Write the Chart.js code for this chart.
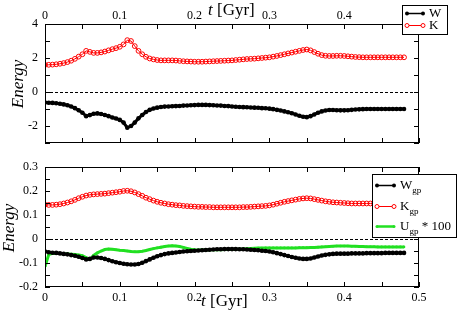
<!DOCTYPE html>
<html>
<head>
<meta charset="utf-8">
<script src="https://cdn.jsdelivr.net/npm/chart.js@4.4.0/dist/chart.umd.min.js"></script>
<style>
  html, body { margin: 0; padding: 0; background: #fff; }
  #wrap { position: relative; width: 457px; height: 312px; }
  canvas { position: absolute; left: 0; }
</style>
</head>
<body>
<div id="wrap">
  <canvas id="topChart" width="457" height="150" style="top:0"></canvas>
  <canvas id="botChart" width="457" height="162" style="top:150px"></canvas>
</div>
<script>
// time in Gyr
const time = [
  0, 0.005, 0.01, 0.015, 0.02, 0.025, 0.03, 0.035, 0.04, 0.045,
  0.05, 0.055, 0.06, 0.065, 0.07, 0.075, 0.08, 0.085, 0.09, 0.095,
  0.1, 0.105, 0.11, 0.115, 0.12, 0.125, 0.13, 0.135, 0.14, 0.145,
  0.15, 0.155, 0.16, 0.165, 0.17, 0.175, 0.18, 0.185, 0.19, 0.195,
  0.2, 0.205, 0.21, 0.215, 0.22, 0.225, 0.23, 0.235, 0.24, 0.245,
  0.25, 0.255, 0.26, 0.265, 0.27, 0.275, 0.28, 0.285, 0.29, 0.295,
  0.3, 0.305, 0.31, 0.315, 0.32, 0.325, 0.33, 0.335, 0.34, 0.345,
  0.35, 0.355, 0.36, 0.365, 0.37, 0.375, 0.38, 0.385, 0.39, 0.395,
  0.4, 0.405, 0.41, 0.415, 0.42, 0.425, 0.43, 0.435, 0.44, 0.445,
  0.45, 0.455, 0.46, 0.465, 0.47, 0.475, 0.48
];

// top panel
const W = [
  -0.62, -0.63, -0.64, -0.66, -0.69, -0.73, -0.78, -0.85, -0.95, -1.07,
  -1.22, -1.42, -1.36, -1.28, -1.26, -1.29, -1.35, -1.42, -1.50, -1.56,
  -1.64, -1.80, -2.10, -2.00, -1.80, -1.55, -1.35, -1.18, -1.05, -0.97,
  -0.92, -0.88, -0.86, -0.85, -0.84, -0.83, -0.82, -0.80, -0.79, -0.78,
  -0.77, -0.76, -0.76, -0.76, -0.77, -0.78, -0.79, -0.80, -0.82, -0.83,
  -0.85, -0.87, -0.88, -0.89, -0.90, -0.91, -0.92, -0.93, -0.95, -0.96,
  -0.98, -1.01, -1.05, -1.09, -1.14, -1.19, -1.25, -1.32, -1.40, -1.46,
  -1.48, -1.42, -1.32, -1.22, -1.14, -1.09, -1.06, -1.06, -1.07, -1.08,
  -1.08, -1.07, -1.05, -1.03, -1.02, -1.01, -1.00, -1.00, -1.00, -1.00,
  -1.00, -1.00, -1.00, -1.00, -1.00, -1.00, -1.00
];
const K = [
  1.60, 1.60, 1.61, 1.63, 1.66, 1.70, 1.76, 1.84, 1.95, 2.08,
  2.22, 2.42, 2.36, 2.30, 2.30, 2.33, 2.38, 2.45, 2.52, 2.58,
  2.66, 2.80, 3.05, 3.00, 2.70, 2.42, 2.22, 2.07, 1.97, 1.92,
  1.88, 1.86, 1.86, 1.86, 1.86, 1.85, 1.83, 1.81, 1.80, 1.79,
  1.78, 1.78, 1.78, 1.79, 1.80, 1.81, 1.82, 1.83, 1.84, 1.85,
  1.86, 1.88, 1.90, 1.92, 1.94, 1.95, 1.96, 1.98, 2.00, 2.02,
  2.04, 2.08, 2.12, 2.17, 2.22, 2.27, 2.32, 2.37, 2.42, 2.47,
  2.50, 2.45, 2.35, 2.25, 2.17, 2.13, 2.12, 2.12, 2.13, 2.13,
  2.12, 2.10, 2.08, 2.06, 2.05, 2.04, 2.04, 2.04, 2.04, 2.04,
  2.04, 2.04, 2.04, 2.04, 2.04, 2.04, 2.04
];

// bottom panel
const Wgp = [
  -0.052, -0.055, -0.057, -0.058, -0.060, -0.062, -0.064, -0.067, -0.070, -0.074,
  -0.079, -0.085, -0.083, -0.077, -0.077, -0.079, -0.083, -0.088, -0.093, -0.097,
  -0.100, -0.103, -0.105, -0.106, -0.106, -0.104, -0.099, -0.092, -0.085, -0.078,
  -0.072, -0.067, -0.063, -0.060, -0.058, -0.056, -0.054, -0.052, -0.051, -0.050,
  -0.049, -0.048, -0.047, -0.046, -0.045, -0.044, -0.043, -0.043, -0.042, -0.042,
  -0.042, -0.042, -0.043, -0.043, -0.044, -0.045, -0.046, -0.047, -0.049, -0.050,
  -0.052, -0.055, -0.059, -0.063, -0.067, -0.071, -0.075, -0.078, -0.081, -0.083,
  -0.083, -0.081, -0.077, -0.073, -0.069, -0.066, -0.064, -0.062, -0.061, -0.061,
  -0.061, -0.061, -0.060, -0.060, -0.060, -0.060, -0.059, -0.059, -0.059, -0.059,
  -0.059, -0.058, -0.058, -0.058, -0.058, -0.058, -0.058
];
const Kgp = [
  0.143, 0.142, 0.142, 0.143, 0.145, 0.148, 0.152, 0.157, 0.163, 0.170,
  0.176, 0.181, 0.184, 0.186, 0.187, 0.188, 0.189, 0.191, 0.193, 0.195,
  0.197, 0.200, 0.201, 0.199, 0.194, 0.187, 0.180, 0.172, 0.166, 0.160,
  0.155, 0.151, 0.148, 0.145, 0.143, 0.141, 0.140, 0.138, 0.137, 0.136,
  0.135, 0.134, 0.134, 0.133, 0.133, 0.132, 0.132, 0.132, 0.132, 0.132,
  0.132, 0.132, 0.132, 0.133, 0.133, 0.134, 0.135, 0.136, 0.137, 0.138,
  0.140, 0.143, 0.147, 0.151, 0.155, 0.158, 0.161, 0.164, 0.167, 0.169,
  0.170, 0.169, 0.166, 0.163, 0.160, 0.157, 0.155, 0.153, 0.152, 0.151,
  0.150, 0.149, 0.148, 0.148, 0.148, 0.148, 0.148, 0.148, 0.148, 0.148,
  0.148, 0.148, 0.148, 0.148, 0.148, 0.148, 0.148
];
// U_gp * 100
const Ugp = [
  -0.115, -0.065, -0.060, -0.059, -0.060, -0.061, -0.062, -0.063, -0.065, -0.067,
  -0.070, -0.077, -0.085, -0.068, -0.058, -0.050, -0.044, -0.042, -0.043, -0.045,
  -0.047, -0.048, -0.050, -0.052, -0.053, -0.053, -0.051, -0.048, -0.044, -0.040,
  -0.037, -0.034, -0.031, -0.029, -0.028, -0.029, -0.031, -0.035, -0.039, -0.043,
  -0.045, -0.046, -0.046, -0.046, -0.045, -0.045, -0.045, -0.045, -0.044, -0.044,
  -0.044, -0.043, -0.043, -0.042, -0.041, -0.040, -0.039, -0.038, -0.038, -0.037,
  -0.037, -0.037, -0.037, -0.037, -0.037, -0.037, -0.037, -0.037, -0.036, -0.036,
  -0.036, -0.035, -0.035, -0.034, -0.033, -0.032, -0.031, -0.030, -0.029, -0.029,
  -0.029, -0.029, -0.030, -0.030, -0.031, -0.031, -0.032, -0.032, -0.032, -0.033,
  -0.033, -0.033, -0.033, -0.033, -0.033, -0.033, -0.033
];

const SERIF = '"Liberation Serif", "DejaVu Serif", serif';
const GREEN = '#22e022';

function pts(arr) {
  return time.map((t, i) => ({ x: t, y: arr[i] }));
}

// no extra room for half labels at the axis ends
function noPad(s) {
  s.paddingTop = 0; s.paddingBottom = 0;
  s.paddingLeft = 0; s.paddingRight = 0;
}

// frame, inward ticks, dashed zero line, axis titles and legend
const decorPlugin = {
  id: 'decor',
  beforeDatasetsDraw(chart) {
    const { ctx, chartArea: a, scales: { y } } = chart;
    const y0 = Math.round(y.getPixelForValue(0)) + 0.5;
    ctx.save();
    ctx.strokeStyle = '#000';
    ctx.lineWidth = 1;
    ctx.setLineDash([3, 2]);
    ctx.beginPath();
    ctx.moveTo(a.left, y0);
    ctx.lineTo(a.right, y0);
    ctx.stroke();
    ctx.restore();
  },
  afterDatasetsDraw(chart, args, opts) {
    const { ctx, chartArea: a, scales: { x, y } } = chart;
    ctx.save();
    ctx.strokeStyle = '#000';
    ctx.lineWidth = 1;
    ctx.strokeRect(Math.round(a.left) + 0.5, Math.round(a.top) + 0.5,
      Math.round(a.right - a.left) - 1, Math.round(a.bottom - a.top) - 1);
    ctx.beginPath();
    const tl = 5;
    for (let v = x.min; v <= x.max + 1e-9; v += opts.xStep) {
      const px = Math.round(x.getPixelForValue(v)) + 0.5;
      ctx.moveTo(px, a.top); ctx.lineTo(px, a.top + tl);
      ctx.moveTo(px, a.bottom); ctx.lineTo(px, a.bottom - tl);
    }
    for (let v = y.min; v <= y.max + 1e-9; v += opts.yStep) {
      const py = Math.round(y.getPixelForValue(v)) + 0.5;
      ctx.moveTo(a.left, py); ctx.lineTo(a.left + tl, py);
      ctx.moveTo(a.right, py); ctx.lineTo(a.right - tl, py);
    }
    ctx.stroke();
    ctx.restore();
  },
  afterDraw(chart, args, opts) {
    const ctx = chart.ctx;
    ctx.save();
    ctx.fillStyle = '#000';
    ctx.textBaseline = 'alphabetic';

    // y title
    const e = opts.energy;
    ctx.save();
    ctx.translate(e.x, e.y);
    ctx.rotate(-Math.PI / 2);
    ctx.font = 'italic 17px ' + SERIF;
    ctx.textAlign = 'center';
    ctx.fillText('Energy', 0, 0);
    ctx.restore();

    // x title
    const t = opts.time;
    ctx.textAlign = 'left';
    ctx.font = 'italic 17px ' + SERIF;
    ctx.fillText('t', t.x, t.y);
    const tw = ctx.measureText('t').width;
    ctx.font = '17px ' + SERIF;
    ctx.fillText(' [Gyr]', t.x + tw, t.y);

    // legend
    const L = opts.legend;
    ctx.fillStyle = '#fff';
    ctx.fillRect(L.x, L.y, L.w, L.h);
    ctx.strokeStyle = '#000';
    ctx.lineWidth = 1;
    ctx.strokeRect(L.x + 0.5, L.y + 0.5, L.w, L.h);
    L.items.forEach(it => {
      const ly = it.y + 0.5;
      ctx.strokeStyle = it.color;
      ctx.lineWidth = it.lw;
      ctx.beginPath();
      ctx.moveTo(L.x1, ly); ctx.lineTo(L.x2, ly);
      ctx.stroke();
      [L.x1, L.x2].forEach(cx => {
        ctx.beginPath();
        ctx.arc(cx, ly, it.r, 0, Math.PI * 2);
        if (it.open) {
          ctx.fillStyle = '#fff'; ctx.fill();
          ctx.lineWidth = 1; ctx.strokeStyle = it.color; ctx.stroke();
        } else {
          ctx.fillStyle = it.color; ctx.fill();
        }
      });
      ctx.fillStyle = '#000';
      ctx.font = '13px ' + SERIF;
      ctx.fillText(it.label, L.tx, it.y + 4);
      let cx = L.tx + ctx.measureText(it.label).width;
      if (it.sub) {
        ctx.font = '9px ' + SERIF;
        ctx.fillText(it.sub, cx, it.y + 8);
        cx += ctx.measureText(it.sub).width;
      }
      if (it.suffix) {
        ctx.font = '13px ' + SERIF;
        ctx.fillText(it.suffix, cx, it.y + 4);
      }
    });
    ctx.restore();
  }
};

const tickFont = { family: SERIF, size: 12 };

new Chart(document.getElementById('topChart'), {
  type: 'line',
  data: {
    datasets: [
      { label: 'W', data: pts(W), borderColor: '#000', borderWidth: 3,
        pointRadius: 2.3, pointBackgroundColor: '#000', pointBorderWidth: 0 },
      { label: 'K', data: pts(K), borderColor: '#ff0000', borderWidth: 1,
        pointRadius: 2.4, pointBackgroundColor: 'rgba(255,255,255,0)',
        pointBorderColor: '#ff0000', pointBorderWidth: 1 }
    ]
  },
  options: {
    responsive: false,
    animation: false,
    events: [],
    layout: { padding: { top: 0, right: 38, bottom: 7, left: 0 } },
    plugins: {
      legend: { display: false },
      tooltip: { enabled: false },
      decor: {
        xStep: 0.05, yStep: 1,
        energy: { x: 23, y: 84 },
        time: { x: 208, y: 15 },
        legend: {
          x: 402, y: 5, w: 45, h: 29, x1: 407, x2: 423, tx: 429,
          items: [
            { label: 'W', color: '#000', lw: 1.5, r: 2, open: false, y: 13 },
            { label: 'K', color: '#ff0000', lw: 1, r: 2, open: true, y: 25 }
          ]
        }
      }
    },
    scales: {
      x: {
        type: 'linear', position: 'top', min: 0, max: 0.5,
        afterFit(s) { s.height = 24; noPad(s); },
        grid: { display: false, drawTicks: false },
        border: { display: false },
        ticks: {
          stepSize: 0.1, padding: 1, color: '#000', font: tickFont,
          maxRotation: 0, autoSkip: false,
          callback: v => (v > 0.45 ? '' : String(Math.round(v * 10) / 10))
        }
      },
      y: {
        min: -3, max: 4,
        afterFit(s) { s.width = 45; noPad(s); },
        grid: { display: false, drawTicks: false },
        border: { display: false },
        ticks: {
          stepSize: 1, padding: 7, color: '#000', font: tickFont, autoSkip: false,
          callback: v => (Math.round(v) % 2 === 0 ? String(Math.round(v)) : '')
        }
      }
    }
  },
  plugins: [decorPlugin]
});

new Chart(document.getElementById('botChart'), {
  type: 'line',
  data: {
    datasets: [
      { label: 'Wgp', data: pts(Wgp), borderColor: '#000', borderWidth: 3,
        pointRadius: 2.3, pointBackgroundColor: '#000', pointBorderWidth: 0 },
      { label: 'Kgp', data: pts(Kgp), borderColor: '#ff0000', borderWidth: 1,
        pointRadius: 2.4, pointBackgroundColor: 'rgba(255,255,255,0)',
        pointBorderColor: '#ff0000', pointBorderWidth: 1 },
      { label: 'Ugp * 100', data: pts(Ugp), borderColor: GREEN, borderWidth: 3,
        pointRadius: 1.3, pointBackgroundColor: GREEN, pointBorderWidth: 0 }
    ]
  },
  options: {
    responsive: false,
    animation: false,
    events: [],
    layout: { padding: { top: 17, right: 38, bottom: 0, left: 0 } },
    plugins: {
      legend: { display: false },
      tooltip: { enabled: false },
      decor: {
        xStep: 0.05, yStep: 0.05,
        energy: { x: 14, y: 78 },
        time: { x: 201, y: 156 },
        legend: {
          x: 372, y: 24, w: 84, h: 63, x1: 377, x2: 394, tx: 400,
          items: [
            { label: 'W', sub: 'gp', color: '#000', lw: 1.5, r: 2, open: false, y: 35 },
            { label: 'K', sub: 'gp', color: '#ff0000', lw: 1, r: 2, open: true, y: 56 },
            { label: 'U', sub: 'gp', suffix: ' * 100', color: GREEN, lw: 2.5, r: 1.5, open: false, y: 76 }
          ]
        }
      }
    },
    scales: {
      x: {
        type: 'linear', position: 'bottom', min: 0, max: 0.5,
        afterFit(s) { s.height = 25; noPad(s); },
        grid: { display: false, drawTicks: false },
        border: { display: false },
        ticks: {
          stepSize: 0.1, padding: 4, color: '#000', font: tickFont,
          maxRotation: 0, autoSkip: false,
          callback: v => String(Math.round(v * 10) / 10)
        }
      },
      y: {
        min: -0.2, max: 0.3,
        afterFit(s) { s.width = 45; noPad(s); },
        grid: { display: false, drawTicks: false },
        border: { display: false },
        ticks: {
          stepSize: 0.1, padding: 7, color: '#000', font: tickFont, autoSkip: false,
          callback: v => String(Math.round(v * 10) / 10)
        }
      }
    }
  },
  plugins: [decorPlugin]
});
</script>
</body>
</html>
